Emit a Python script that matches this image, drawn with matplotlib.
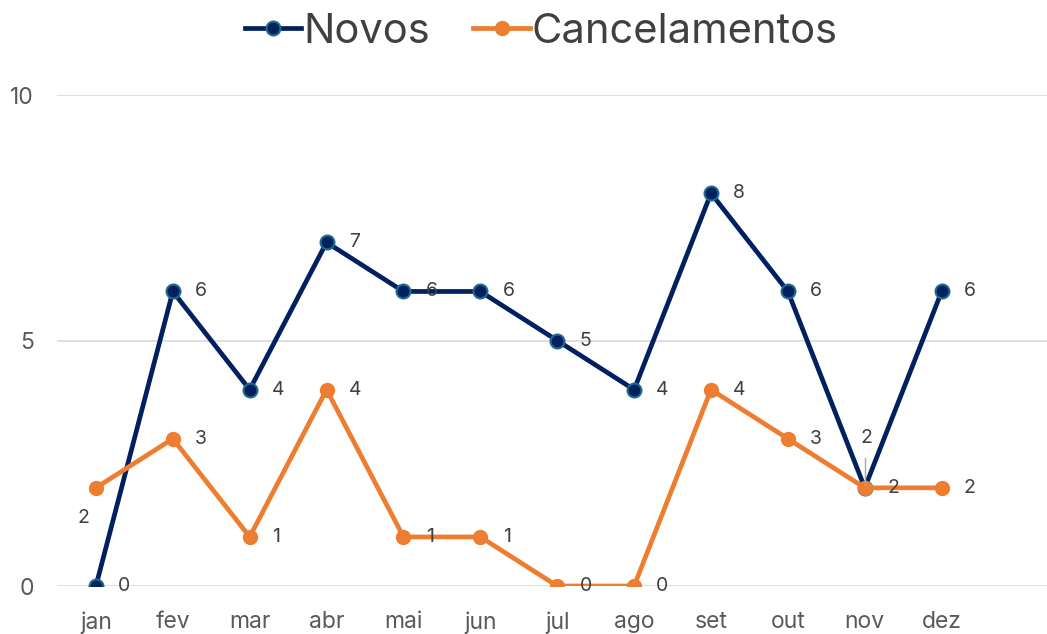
import matplotlib
matplotlib.use("Agg")
import matplotlib.pyplot as plt

plt.rcParams['font.family'] = ['Inter', 'DejaVu Sans']

months = ["jan", "fev", "mar", "abr", "mai", "jun", "jul", "ago", "set", "out", "nov", "dez"]
novos = [0, 6, 4, 7, 6, 6, 5, 4, 8, 6, 2, 6]
cancelamentos = [2, 3, 1, 4, 1, 1, 0, 0, 4, 3, 2, 2]

navy = "#002060"
navy_edge = "#1F6A8A"
orange = "#ED7D31"
text_col = "#404040"
tick_col = "#595959"
grid_col = "#D9D9D9"

fig = plt.figure(figsize=(10.47, 6.34), dpi=100)
ax = fig.add_axes([0.0549, 0.0757, 0.9451, 0.7743])

x = list(range(len(months)))
ax.plot(x, novos, color=navy, lw=3.4, marker='o', markersize=10,
        markerfacecolor=navy, markeredgecolor=navy_edge, markeredgewidth=1.5,
        label="Novos", zorder=3)
ax.plot(x, cancelamentos, color=orange, lw=3.4, marker='o', markersize=10,
        markerfacecolor=orange, markeredgecolor=orange,
        label="Cancelamentos", zorder=4)

ax.set_xlim(-0.5, 12.37)
ax.set_ylim(0, 10)
ax.set_yticks([0, 5, 10])
ax.set_xticks(x)
ax.set_xticklabels(months)
ax.grid(axis='y', color=grid_col, lw=1.2)
ax.set_axisbelow(True)
for s in ax.spines.values():
    s.set_visible(False)
ax.tick_params(axis='both', length=0, labelsize=16.5, colors=tick_col)
ax.tick_params(axis='x', pad=18)
ax.tick_params(axis='y', pad=17)

lab_kw = dict(fontsize=14, color=text_col, va='center', ha='left', zorder=5)

for i, v in enumerate(novos):
    if i == 10:
        ax.annotate(str(v), (i, v), xytext=(1, 36), textcoords='offset points',
                    ha='center', va='center', fontsize=14, color=text_col, zorder=5)
        ax.plot([i, i], [v + 0.05, v + 0.6], color="#A6A6A6", lw=1, zorder=5)
    else:
        ax.annotate(str(v), (i, v), xytext=(16, 0), textcoords='offset points', **lab_kw)

for i, v in enumerate(cancelamentos):
    if i == 0:
        ax.annotate(str(v), (i, v), xytext=(-9, -22), textcoords='offset points',
                    ha='center', va='center', fontsize=14, color=text_col, zorder=5)
    else:
        ax.annotate(str(v), (i, v), xytext=(16, 0), textcoords='offset points', **lab_kw)

leg = fig.legend(loc='center', bbox_to_anchor=(0.517, 0.95), ncol=2, frameon=False,
                 fontsize=30, handlelength=1.35, handletextpad=0.05, columnspacing=1.05,
                 labelcolor=text_col)

fig.savefig("out.png", dpi=100)
